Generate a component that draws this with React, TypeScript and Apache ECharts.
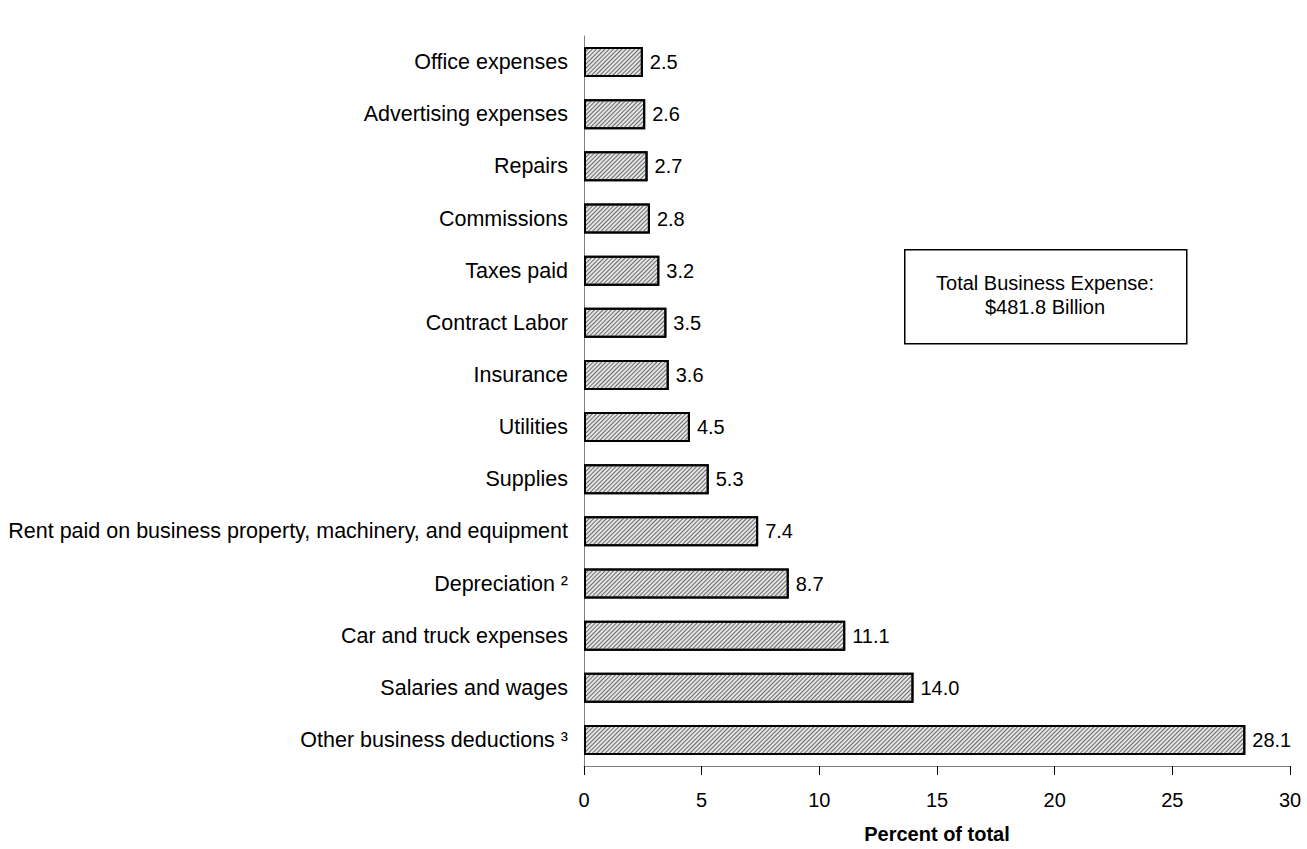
import React, { useEffect, useRef } from "react";
import * as echarts from "echarts";

const categories = [
  "Office expenses",
  "Advertising expenses",
  "Repairs",
  "Commissions",
  "Taxes paid",
  "Contract Labor",
  "Insurance",
  "Utilities",
  "Supplies",
  "Rent paid on business property, machinery, and equipment",
  "Depreciation ²",
  "Car and truck expenses",
  "Salaries and wages",
  "Other business deductions ³",
];
const values = [2.5, 2.6, 2.7, 2.8, 3.2, 3.5, 3.6, 4.5, 5.3, 7.4, 8.7, 11.1, 14.0, 28.1];
const noteLines = ["Total Business Expense:", "$481.8 Billion"];
const axisTitle = "Percent of total";

const FONT = "'Liberation Sans', Arial, sans-serif";

export default function App() {
  const ref = useRef<HTMLDivElement>(null);
  useEffect(() => {
    if (!ref.current) return;
    const chart = echarts.init(ref.current, null, { renderer: "svg" });
    chart.setOption({
      animation: false,
      backgroundColor: "#fff",
      textStyle: { fontFamily: FONT },
      grid: { left: 584, right: 17, top: 36, bottom: 74, containLabel: false },
      xAxis: {
        type: "value",
        min: 0,
        max: 30,
        interval: 5,
        splitLine: { show: false },
        axisLine: { show: true, lineStyle: { color: "#808080", width: 1 } },
        axisTick: { show: true, inside: false, length: 9, lineStyle: { color: "#000", width: 1 } },
        axisLabel: { color: "#000", fontSize: 20, fontFamily: FONT, margin: 24 },
        name: axisTitle,
        nameLocation: "middle",
        nameGap: 58,
        nameTextStyle: { color: "#000", fontSize: 20, fontWeight: "bold", fontFamily: FONT },
      },
      yAxis: {
        type: "category",
        data: categories,
        inverse: true,
        axisLine: { show: true, lineStyle: { color: "#808080", width: 1 } },
        axisTick: { show: false },
        axisLabel: { color: "#000", fontSize: 21.5, fontFamily: FONT, margin: 16 },
      },
      series: [
        {
          type: "bar",
          data: values,
          barWidth: 30,
          itemStyle: {
            color: "#e4e4e4",
            borderColor: "#000",
            borderWidth: 2,
            decal: {
              symbol: "rect",
              symbolSize: 1,
              dashArrayX: [1, 0],
              dashArrayY: [1, 1.2],
              rotation: -Math.PI / 4,
              color: "#6a6a6a",
            },
          },
          label: {
            show: true,
            position: "right",
            distance: 7,
            color: "#000",
            fontSize: 20,
            fontFamily: FONT,
            formatter: (p: any) => Number(p.value).toFixed(1),
          },
        },
      ],
      graphic: [
        {
          type: "rect",
          left: 904,
          top: 249,
          shape: { width: 282, height: 94 },
          style: { fill: "#fff", stroke: "#000", lineWidth: 1.5 },
        },
        {
          type: "text",
          x: 1045,
          y: 271,
          style: {
            text: noteLines.join("\n"),
            align: "center",
            verticalAlign: "top",
            fontSize: 20,
            lineHeight: 24,
            fill: "#000",
            fontFamily: FONT,
          },
        },
      ],
    });
    return () => chart.dispose();
  }, []);
  return (
    <div
      ref={ref}
      style={{ position: "fixed", left: 0, top: 0, width: 1307, height: 849 }}
    />
  );
}
